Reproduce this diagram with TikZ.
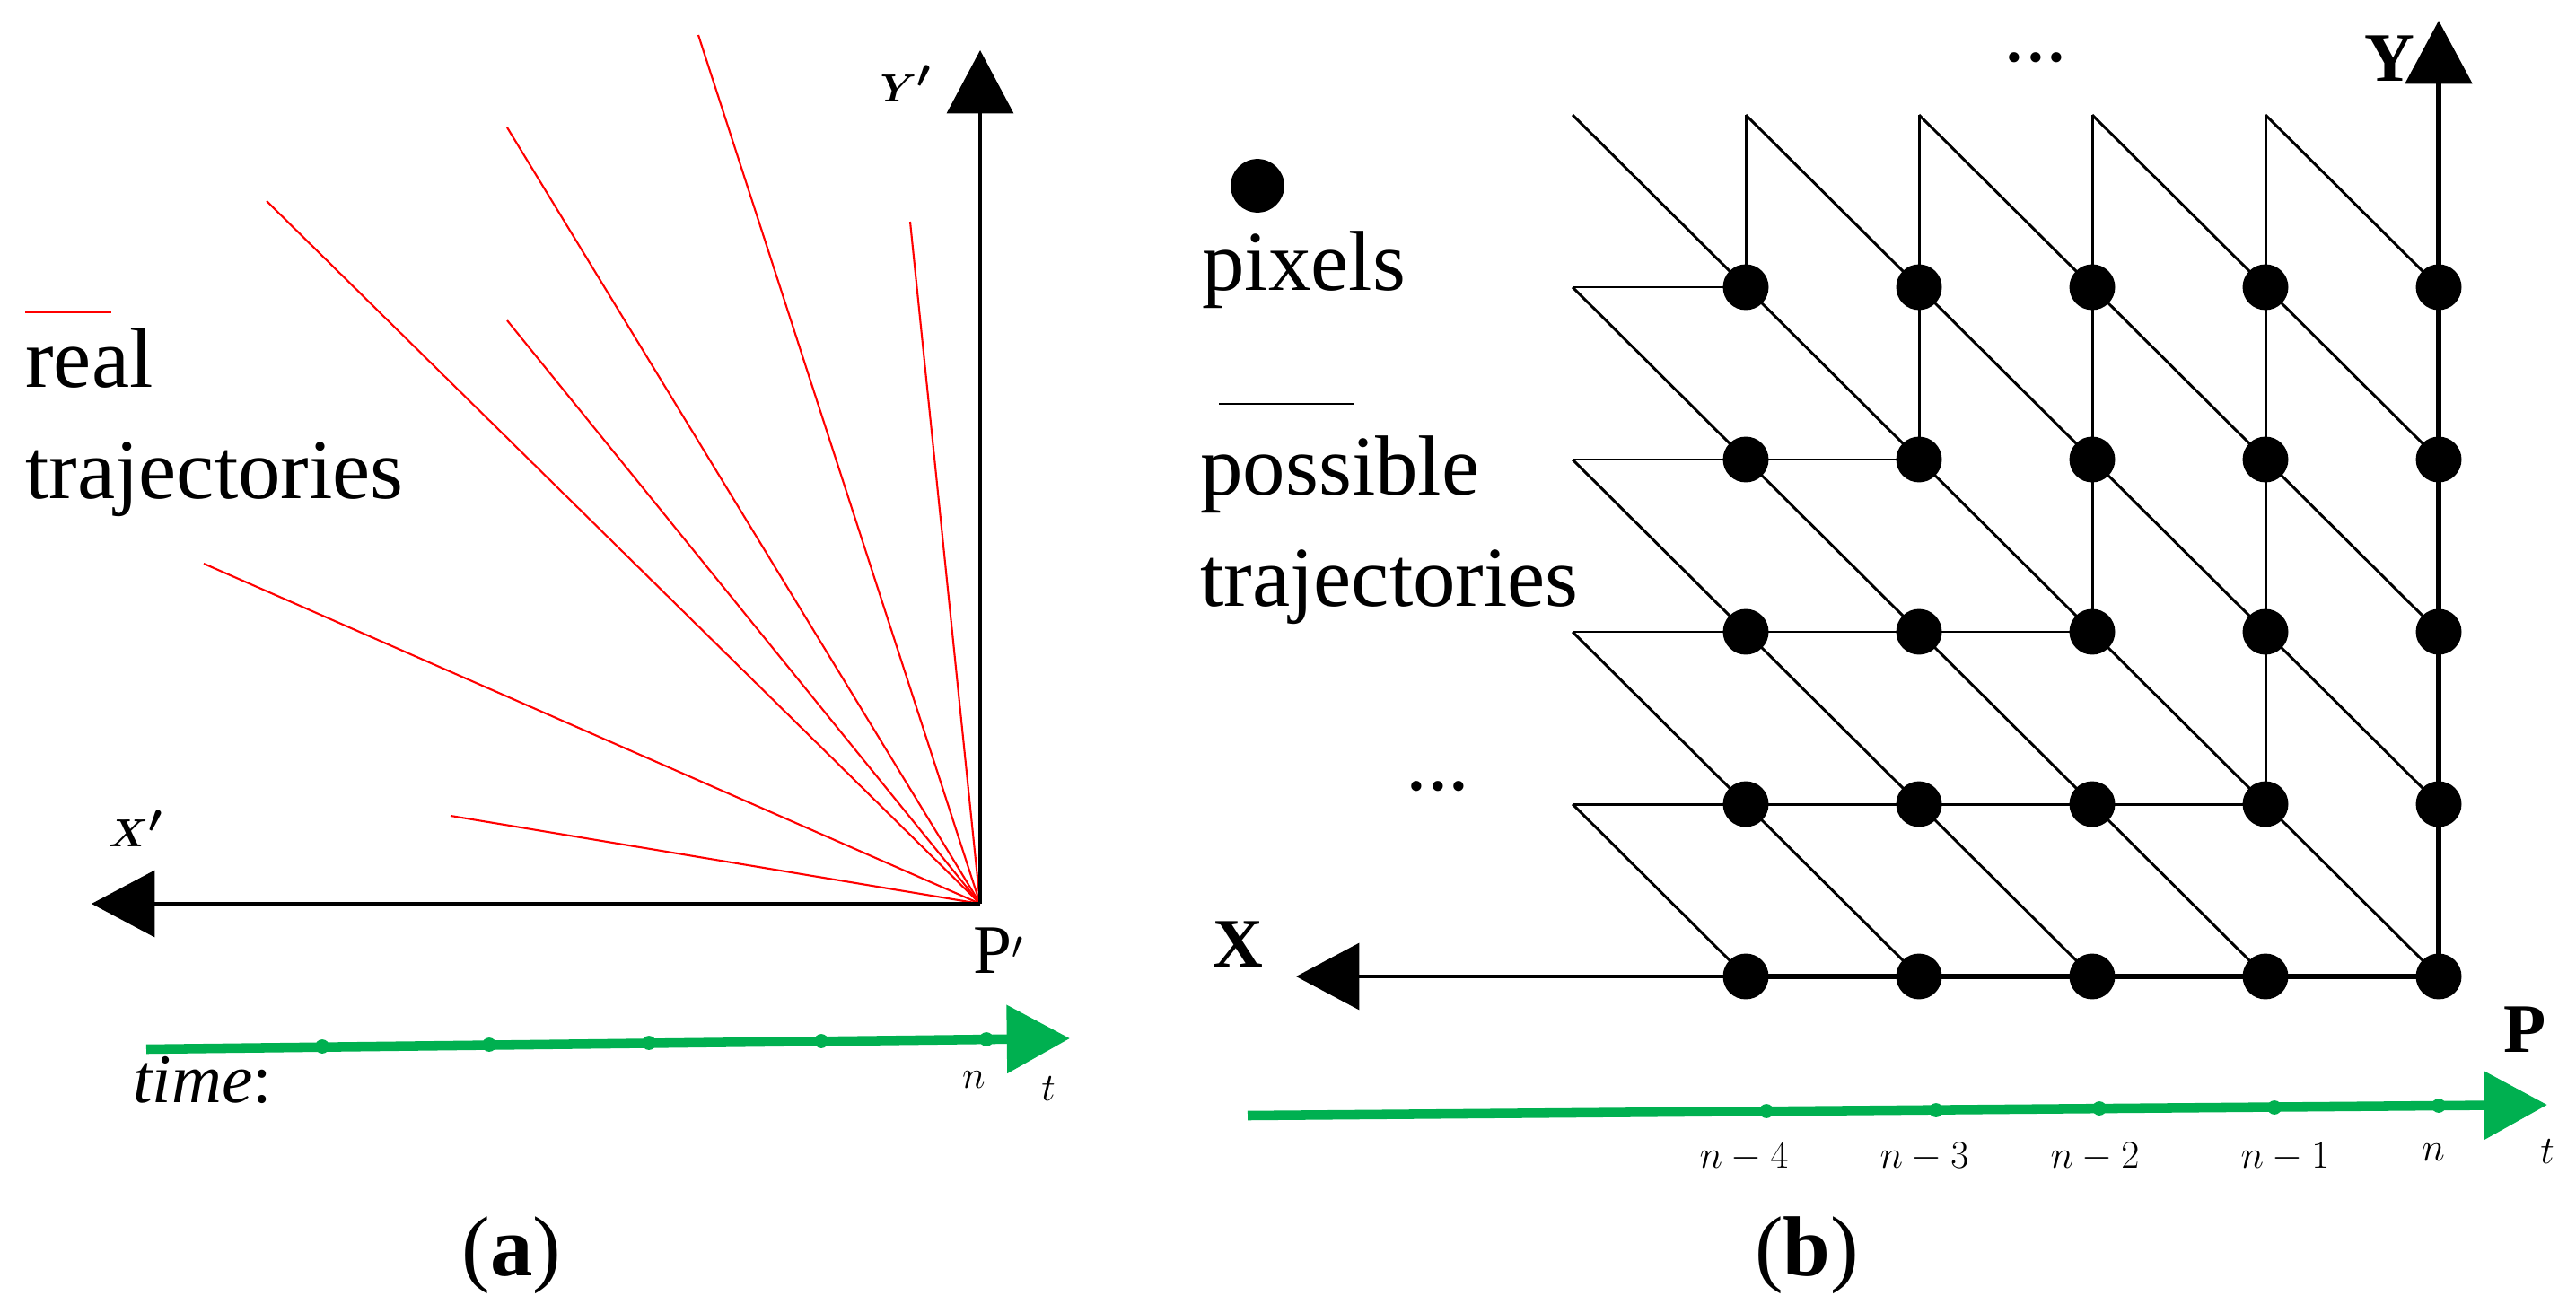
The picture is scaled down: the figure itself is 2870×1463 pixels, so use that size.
\documentclass[tikz,border=0pt]{standalone}
\usepackage{amsmath}
\usepackage{fontspec}
\setmainfont{Liberation Serif}
\usetikzlibrary{arrows.meta}
\definecolor{tgreen}{RGB}{0,176,80}
\begin{document}
\begin{tikzpicture}[x=0.02cm,y=-0.02cm,
  ln/.style={line width=1.7pt,black},
  axis/.style={line width=2.2pt,black,-{Triangle[length=40pt,width=42pt]}},
  redl/.style={line width=1.2pt,draw=red},
  gax/.style={line width=6pt,tgreen,-{Triangle[length=40pt,width=42pt]}},
  tick/.style={circle,fill=tgreen,inner sep=0pt,minimum size=9pt},
  dot/.style={circle,fill=black,inner sep=0pt,minimum size=29pt},
  big/.style={font=\fontsize{54}{62}\selectfont,inner sep=0pt},
  lab/.style={font=\fontsize{44}{50}\selectfont,inner sep=0pt}]
\useasboundingbox (0,0) rectangle (2870,1463);
% ---------- panel (a) ----------
\coordinate (Pa) at (1092,1007);
\coordinate (Yat) at (1092,56);
\coordinate (Xat) at (102,1007);
\foreach \i/\x/\y in {1/778/39,2/565/142,3/297/224,4/565/357,5/1014/247,6/227/628,7/502/909}
  \coordinate (r\i) at (\x,\y);
\foreach \i in {1,...,7} \draw[redl] (Pa) -- (r\i);
\draw[axis] (Pa) -- (Yat);
\draw[axis] (Pa) -- (Xat);
\node[lab] (Yal) at (1009,93) {$\boldsymbol{Y'}$};
\node[lab] (Xal) at (151,923) {$\boldsymbol{X'}$};
\node[lab] (Pal) at (1112,1059) {P$'$};
\coordinate (rl1) at (28,348); \coordinate (rl2) at (124,348);
\draw[redl] (rl1) -- (rl2);
\node[big,anchor=base west] (real) at (28,431) {real};
\node[big,anchor=base west] (rtraj) at (28,555) {trajectories};
\coordinate (ga1) at (163,1169); \coordinate (ga2) at (1192,1157);
\draw[gax] (ga1) -- (ga2);
\foreach \i/\x/\y in {1/359/1166,2/545/1164,3/723/1162,4/915/1160,5/1099/1158}
  \node[tick] (ta\i) at (\x,\y) {};
\node[lab,anchor=base west] (time) at (148,1228) {$\mathit{time}$:};
\node[font=\fontsize{30}{34}\selectfont,inner sep=0pt] (na) at (1085,1203) {$n$};
\node[lab] (tal) at (1168,1213) {$t$};
\node[big] (capa) at (570,1399) {(\textbf{a})};
% ---------- panel (b) ----------
\foreach \r in {-1,...,4}{\foreach \c in {-1,...,4}{
  \coordinate (g\r_\c) at ({1945+193*\c},{320+192*\r});}}
\foreach \r in {0,...,3} \draw[ln] (g\r_-1) -- (g\r_\r);
\foreach \c in {0,...,3} \draw[ln] (g-1_\c) -- (g\c_\c);
\draw[ln] (g-1_-1) -- (g4_4);
\foreach \k in {1,...,4}{
  \pgfmathtruncatemacro{\ka}{\k-1}\pgfmathtruncatemacro{\kb}{4-\k}
  \draw[ln] (g-1_\ka) -- (g\kb_4);}
\foreach \k in {1,...,4}{
  \pgfmathtruncatemacro{\ka}{\k-1}\pgfmathtruncatemacro{\kb}{4-\k}
  \draw[ln] (g\ka_-1) -- (g4_\kb);}
\coordinate (Xbt) at (1444,1088);
\coordinate (Ybt) at (2717,23);
\draw[axis] (g4_4) -- (Xbt);
\draw[axis,line width=3.5pt] (g4_4) -- (Ybt);
\draw[line width=3.5pt] (g4_0) -- (g4_4);
\foreach \r in {0,...,4}{\foreach \c in {0,...,4}{
  \node[dot] (p\r_\c) at (g\r_\c) {};}}
\node[lab] (Xbl) at (1379,1052) {\textbf{X}};
\node[lab] (Ybl) at (2662,65) {\textbf{Y}};
\node[lab] (Pbl) at (2813,1147) {\textbf{P}};
\node[big] (dots1) at (2268,64) {...};
\node[big] (dots2) at (1602,876) {...};
\node[dot,minimum size=34pt] (leg) at (1401,207) {};
\node[big,anchor=base west] (pix) at (1339,323) {pixels};
\coordinate (pl1) at (1358,450); \coordinate (pl2) at (1509,450);
\draw[ln] (pl1) -- (pl2);
\node[big,anchor=base west] (poss) at (1337,551) {possible};
\node[big,anchor=base west] (ptraj) at (1337,675) {trajectories};
\coordinate (gb1) at (1390,1243); \coordinate (gb2) at (2838,1231);
\draw[gax] (gb1) -- (gb2);
\foreach \i/\x/\y in {1/1968/1238,2/2157/1237,3/2339/1235,4/2534/1234,5/2717/1232}
  \node[tick] (tb\i) at (\x,\y) {};
\foreach \i/\x/\lbl in {1/1943/n-4,2/2144/n-3,3/2334/n-2,4/2546/n-1}
  \node[font=\fontsize{34}{40}\selectfont,inner sep=0pt] (nb\i) at (\x,1289) {$\lbl$};
\node[font=\fontsize{30}{34}\selectfont,inner sep=0pt] (nb5) at (2711,1284) {$n$};
\node[lab] (tbl) at (2838,1283) {$t$};
\node[big] (capb) at (2013,1399) {(\textbf{b})};
\end{tikzpicture}
\end{document}
